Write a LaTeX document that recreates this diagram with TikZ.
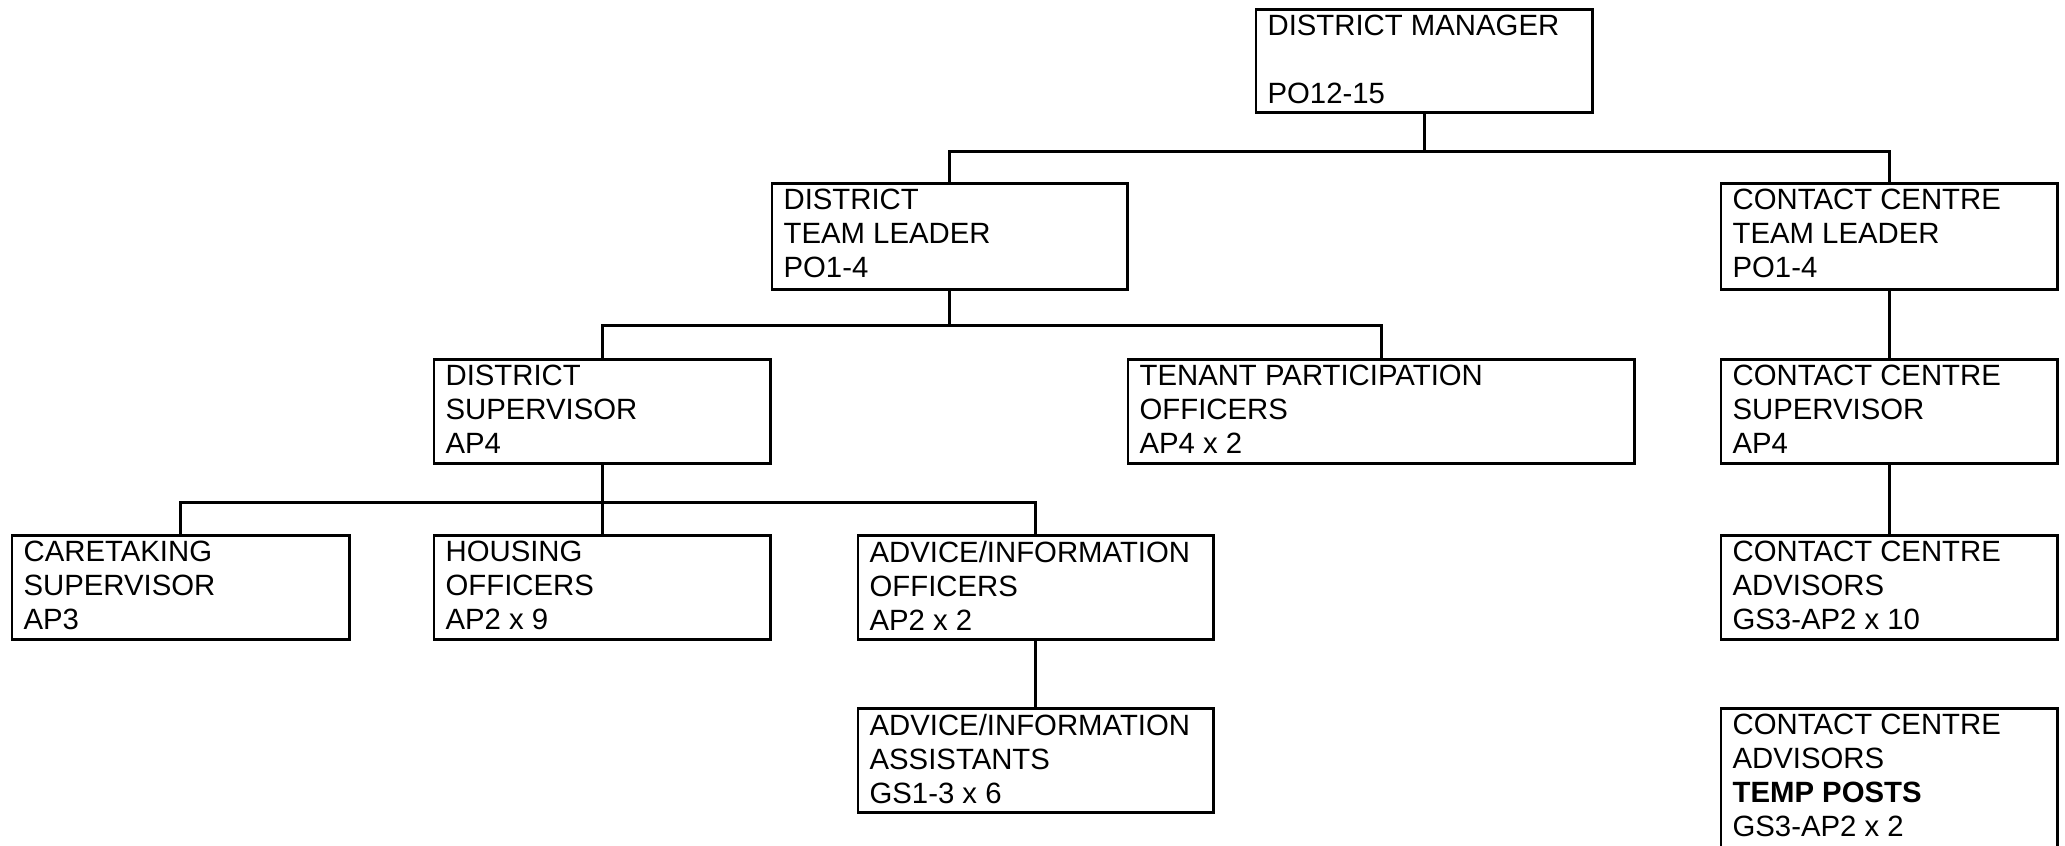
\documentclass[tikz,border=0pt]{standalone}
\usepackage{fontspec}
\setmainfont{Liberation Sans}

\tikzset{
	post/.style={draw, line width=0.85pt, anchor=north west, inner sep=0pt, font=\fontsize{8.34}{9.67}\selectfont},
	wire/.style={line width=0.85pt}
}
\newcommand{\postbox}[3]{\parbox[t][#2][t]{#1}{\raggedright\leftskip=3.3pt\vspace*{1.4pt}#3}}

\begin{document}
\begin{tikzpicture}[x=0.01cm, y=-0.01cm]
	\useasboundingbox (0,0) rectangle (2065,846);
	
	% top
	\node[post] (dm) at (1254.5,8.5) {\postbox{3.36cm}{1.02cm}{DISTRICT MANAGER\\[9.67pt]PO12-15}};
	\node[post] (dtl) at (770.5,182.5) {\postbox{3.55cm}{1.05cm}{DISTRICT\\TEAM LEADER\\PO1-4}};
	\node[post] (cctl) at (1719.5,182.5) {\postbox{3.36cm}{1.05cm}{CONTACT CENTRE\\TEAM LEADER\\PO1-4}};
	
	% district side
	\node[post] (ds) at (432.5,358.5) {\postbox{3.36cm}{1.03cm}{DISTRICT\\SUPERVISOR\\AP4}};
	\node[post] (tpo) at (1126.5,358.5) {\postbox{5.06cm}{1.03cm}{TENANT PARTICIPATION\\OFFICERS\\AP4 x 2}};
	\node[post] (cs) at (10.5,534.5) {\postbox{3.37cm}{1.03cm}{CARETAKING\\SUPERVISOR\\AP3}};
	\node[post] (ho) at (432.5,534.5) {\postbox{3.36cm}{1.03cm}{HOUSING\\OFFICERS\\AP2 x 9}};
	\node[post] (aio) at (856.5,534.5) {\postbox{3.55cm}{1.03cm}{ADVICE/INFORMATION\\OFFICERS\\AP2 x 2}};
	\node[post] (aia) at (856.5,707.5) {\postbox{3.55cm}{1.03cm}{ADVICE/INFORMATION\\ASSISTANTS\\GS1-3 x 6}};
	
	% contact centre side
	\node[post] (ccs) at (1719.5,358.5) {\postbox{3.36cm}{1.03cm}{CONTACT CENTRE\\SUPERVISOR\\AP4}};
	\node[post] (cca) at (1719.5,534.5) {\postbox{3.36cm}{1.03cm}{CONTACT CENTRE\\ADVISORS\\GS3-AP2 x 10}};
	\node[post] (tmp) at (1719.5,707.5) {\postbox{3.36cm}{1.5cm}{CONTACT CENTRE\\ADVISORS\\\textbf{TEMP POSTS}\\GS3-AP2 x 2}};
	
	\draw[wire] (dm.south) -- ++(0,37.5) coordinate (j1) -| (dtl.north);
	\draw[wire] (j1) -| (cctl.north);
	\draw[wire] (dtl.south) -- ++(0,34.5) coordinate (j2) -| (ds.north);
	\draw[wire] (j2) -| (tpo.north);
	\draw[wire] (ds.south) -- ++(0,37.5) coordinate (j3) -| (cs.north);
	\draw[wire] (j3) -- (ho.north);
	\draw[wire] (j3) -| (aio.north);
	\draw[wire]
	(aio) edge (aia)
	(cctl) edge (ccs)
	(ccs) edge (cca);
\end{tikzpicture}
\end{document}
